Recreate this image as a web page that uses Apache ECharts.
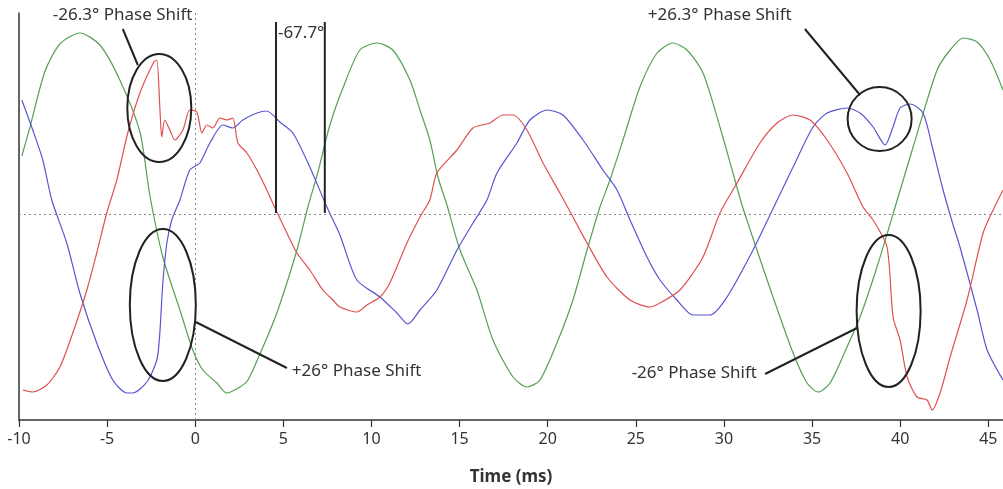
<!DOCTYPE html>
<html>
<head>
<meta charset="utf-8">
<script src="https://cdn.jsdelivr.net/npm/echarts@6/dist/echarts.min.js"></script>
<style>
  html, body { margin: 0; padding: 0; background: #fff; }
  #chart { width: 1003px; height: 489px; }
</style>
</head>
<body>
<div id="chart"></div>
<script>
// 时间轴刻度
const timeTicks = [-10, -5, 0, 5, 10, 15, 20, 25, 30, 35, 40, 45];

// 绿色波形
const greenX = [-9.84, -9.39, -8.54, -7.68, -6.55, -5.41, -4.28, -3.14, -2.58, -1.84, -0.87, -0.14, 0.43, 1.23, 1.79, 2.53, 2.99, 3.84, 4.63, 5.77, 6.39, 6.96, 7.64, 8.38, 9.34, 10.31, 11.21, 12.18, 12.75, 13.31, 13.77, 14.28, 15.02, 15.98, 16.89, 18.03, 18.82, 19.56, 20.52, 21.43, 22.23, 22.96, 23.53, 24.27, 25.23, 26.2, 27.11, 27.9, 28.81, 29.77, 30.51, 31.02, 31.87, 32.78, 33.92, 34.71, 35.34, 36.02, 36.98, 37.72, 38.68, 39.71, 40.73, 42.09, 42.83, 43.56, 44.36, 45.1, 45.83];
const greenY = [0.58, 0.86, 1.42, 1.70, 1.81, 1.69, 1.34, 0.82, 0.19, -0.43, -0.96, -1.36, -1.56, -1.69, -1.79, -1.73, -1.66, -1.33, -0.99, -0.36, 0.07, 0.42, 0.89, 1.26, 1.64, 1.71, 1.64, 1.34, 1.04, 0.74, 0.37, 0.09, -0.36, -0.76, -1.26, -1.63, -1.73, -1.66, -1.29, -0.86, -0.36, 0.07, 0.34, 0.74, 1.27, 1.61, 1.71, 1.64, 1.41, 0.87, 0.41, 0.09, -0.36, -0.83, -1.39, -1.69, -1.78, -1.69, -1.33, -1.03, -0.53, 0.07, 0.67, 1.44, 1.64, 1.76, 1.72, 1.54, 1.24];

// 蓝色波形
const blueX = [-9.84, -9.22, -8.65, -8.14, -7.29, -6.55, -5.59, -4.68, -3.88, -3.54, -2.75, -2.18, -2.01, -1.84, -1.61, -1.33, -0.87, -0.31, 0.26, 0.83, 1.57, 2.13, 2.7, 3.5, 4.06, 4.8, 5.54, 6.5, 7.47, 8.21, 9.17, 10.48, 11.44, 12.07, 12.75, 13.71, 14.85, 15.76, 16.55, 17.12, 18.25, 18.99, 19.96, 20.86, 22.0, 23.13, 23.93, 24.67, 25.63, 26.37, 27.33, 28.24, 29.21, 30.17, 31.65, 32.61, 33.92, 35.05, 35.85, 36.98, 37.72, 38.46, 39.14, 39.59, 39.99, 40.56, 41.29, 41.86, 42.43, 43.0, 43.39, 44.36, 44.93, 45.83];
const blueY = [1.14, 0.84, 0.54, 0.14, -0.29, -0.79, -1.29, -1.66, -1.79, -1.79, -1.68, -1.46, -1.19, -0.69, -0.29, -0.06, 0.14, 0.44, 0.51, 0.71, 0.89, 0.86, 0.94, 1.01, 1.03, 0.92, 0.81, 0.47, 0.07, -0.21, -0.66, -0.83, -0.99, -1.10, -0.96, -0.76, -0.36, -0.09, 0.14, 0.41, 0.71, 0.94, 1.04, 0.99, 0.74, 0.44, 0.24, -0.06, -0.43, -0.66, -0.86, -1.01, -1.01, -0.83, -0.36, -0.01, 0.47, 0.87, 1.01, 1.06, 1.01, 0.87, 0.69, 0.87, 1.06, 1.10, 1.01, 0.64, 0.24, -0.11, -0.33, -0.96, -1.36, -1.66];

// 红色波形
const redX = [-9.78, -9.22, -8.42, -7.68, -6.95, -6.15, -5.59, -5.02, -4.45, -3.83, -3.14, -2.35, -2.18, -2.01, -1.9, -1.73, -1.44, -1.16, -0.7, -0.31, 0.09, 0.38, 0.66, 1.0, 1.4, 1.79, 2.13, 2.42, 2.93, 3.5, 4.06, 4.63, 5.2, 5.77, 6.5, 7.24, 7.81, 8.21, 9.17, 9.74, 10.48, 11.04, 12.01, 12.75, 13.31, 13.71, 14.85, 15.76, 16.72, 17.46, 18.03, 18.82, 19.73, 20.69, 21.43, 22.23, 23.36, 24.67, 25.8, 26.37, 27.5, 28.81, 29.77, 30.74, 32.04, 33.01, 33.92, 34.88, 35.85, 36.98, 37.89, 38.46, 39.25, 39.59, 39.99, 40.39, 40.95, 41.52, 41.81, 42.26, 42.83, 43.79, 44.7, 45.27, 45.83];
const redY = [-1.76, -1.78, -1.71, -1.53, -1.19, -0.76, -0.39, 0.01, 0.34, 0.81, 1.21, 1.52, 1.54, 1.07, 0.77, 0.94, 0.84, 0.74, 0.84, 1.04, 1.02, 0.81, 0.89, 0.86, 0.96, 0.94, 0.96, 0.71, 0.61, 0.44, 0.24, 0.02, -0.19, -0.39, -0.56, -0.76, -0.86, -0.93, -0.98, -0.91, -0.83, -0.69, -0.29, -0.03, 0.14, 0.41, 0.64, 0.86, 0.91, 0.99, 0.99, 0.84, 0.51, 0.21, -0.03, -0.29, -0.63, -0.86, -0.93, -0.89, -0.76, -0.43, 0.01, 0.31, 0.71, 0.91, 0.99, 0.94, 0.74, 0.41, 0.07, -0.06, -0.33, -1.03, -1.26, -1.63, -1.83, -1.86, -1.96, -1.79, -1.43, -0.86, -0.19, 0.04, 0.24];

// 标注（数据坐标）
const noteTexts = [
  { text: "-26.3° Phase Shift", at: [-8.08, 1.99], align: "left" },
  { text: "+26.3° Phase Shift", at: [25.68, 1.99], align: "left" },
  { text: "+26° Phase Shift", at: [5.48, -1.57], align: "left" },
  { text: "-26° Phase Shift", at: [31.87, -1.59], align: "right" },
  { text: "-67.7°", at: [4.69, 1.81], align: "left" },
];
// 椭圆：中心(数据坐标) + 半径(px)
const noteEllipses = [
  { at: [-2.04, 1.06], rx: 32, ry: 54 },
  { at: [-1.84, -0.91], rx: 33, ry: 76 },
  { at: [38.83, 0.95], rx: 32, ry: 32 },
  { at: [39.34, -0.97], rx: 32, ry: 76 },
];
// 引线
const noteLines = [
  [[-4.11, 1.85], [-3.26, 1.49]],
  [[0.03, -1.08], [5.2, -1.54]],
  [[32.33, -1.6], [37.55, -1.14]],
  [[34.59, 1.85], [37.72, 1.19]],
  [[4.58, 0.01], [4.58, 1.92]],
  [[7.35, 0.01], [7.35, 1.92]],
];

const pairs = (xs, ys) => xs.map((x, i) => [x, ys[i]]);
const font = "Noto Sans";

const chart = echarts.init(document.getElementById("chart"));

const lineSeries = (name, xs, ys, color) => ({
  name,
  type: "line",
  data: pairs(xs, ys),
  showSymbol: false,
  smooth: 0.25,
  lineStyle: { color, width: 1.2 },
  silent: true,
  z: 3,
});

const option = {
  animation: false,
  grid: { left: 19, right: 0, top: 13, bottom: 69, outerBoundsMode: "none" },
  xAxis: {
    type: "value",
    min: -10,
    max: 45.83,
    interval: 5,
    name: "Time (ms)",
    nameLocation: "middle",
    nameGap: 49,
    nameTextStyle: { fontFamily: font, fontSize: 17, fontWeight: "bold", color: "#333" },
    axisLine: { onZero: false, lineStyle: { color: "#333", width: 1.5 } },
    axisTick: { length: 7, lineStyle: { color: "#333", width: 1.2 } },
    axisLabel: {
      fontFamily: font,
      fontSize: 16,
      color: "#333",
      margin: 11,
      showMaxLabel: false,
      formatter: (v) => (timeTicks.includes(v) ? String(v) : ""),
    },
    splitLine: { show: false },
  },
  yAxis: {
    type: "value",
    min: -2.06,
    max: 2.01,
    axisLine: { show: true, onZero: false, lineStyle: { color: "#333", width: 1.5 } },
    axisTick: { show: false },
    axisLabel: { show: false },
    splitLine: { show: false },
  },
  series: [
    lineSeries("green", greenX, greenY, "#55a055"),
    lineSeries("blue", blueX, blueY, "#5656d2"),
    Object.assign(lineSeries("red", redX, redY, "#e05050"), {
      markLine: {
        silent: true,
        symbol: "none",
        label: { show: false },
        lineStyle: { color: "#888", type: [2, 3], width: 1 },
        data: [{ yAxis: 0 }, { xAxis: 0 }],
      },
    }),
  ],
};
chart.setOption(option);

// 标注图形
const px = (p) => chart.convertToPixel({ gridIndex: 0 }, p);
const graphics = [];
noteEllipses.forEach((e) => {
  const c = px(e.at);
  graphics.push({
    type: "ellipse",
    shape: { cx: c[0], cy: c[1], rx: e.rx, ry: e.ry },
    style: { fill: "none", stroke: "#222", lineWidth: 2 },
    z: 10,
  });
});
noteLines.forEach((l) => {
  const a = px(l[0]);
  const b = px(l[1]);
  graphics.push({
    type: "line",
    shape: { x1: a[0], y1: a[1], x2: b[0], y2: b[1] },
    style: { stroke: "#222", lineWidth: 2 },
    z: 10,
  });
});
noteTexts.forEach((t) => {
  const p = px(t.at);
  graphics.push({
    type: "text",
    x: p[0],
    y: p[1],
    style: {
      text: t.text,
      fill: "#333",
      font: "17px " + font,
      align: t.align,
      verticalAlign: "middle",
    },
    z: 11,
  });
});
chart.setOption({ graphic: graphics });
</script>
</body>
</html>
